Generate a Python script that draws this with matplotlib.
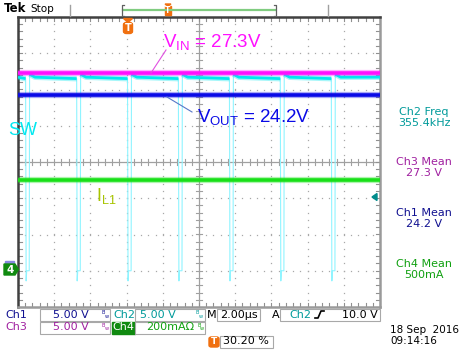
import numpy as np
import matplotlib
matplotlib.use('Agg')
import matplotlib.pyplot as plt
from matplotlib.patches import Rectangle, Polygon, FancyBboxPatch
from matplotlib.lines import Line2D

W, H = 468, 352

time_per_div_us = 2.0
volts_per_div = 5.0
amps_per_div = 0.2
ground_div = -3.0           # all channel grounds 3 div below centre
vin_mean_v = 27.3           # Ch3
vout_mean_v = 24.2          # Ch1
il_mean_a = 0.5             # Ch4
sw_pulse_times_us = [0.42, 3.24, 6.05, 8.86, 11.68, 14.49, 17.31]
sw_peak_v = 27.1            # just after each rising edge
sw_settle_v = 26.7          # ~0.3 us after rising edge
sw_before_v = 26.5          # just before the falling edge
sw_low_v = 0.0
sw_undershoot_v = -1.4
sw_off_us = 0.20
record_len_us = 20.0

meas_labels = ["Ch2 Freq", "Ch3 Mean", "Ch1 Mean", "Ch4 Mean"]
meas_values = ["355.4kHz", "27.3 V", "24.2 V", "500mA"]
meas_colors = ["#009A9A", "#A020A0", "#101090", "#10A010"]
meas_y = [112, 162, 213, 264]

C_MAG = "#FF10FF"
C_CYAN = "#00E8F0"
C_CYAN_L = "#90F4FF"
C_BLUE = "#0A0AE6"
C_GREEN = "#18E018"
C_ORANGE = "#F07010"

fig = plt.figure(figsize=(W / 100, H / 100), dpi=100)
fig.patch.set_facecolor("white")


def fx(x):
    return x / W


def fy(y):
    return 1 - y / H


def ftext(x, y, s, **kw):
    fig.text(fx(x), fy(y), s, **kw)


def frect(x0, y0, x1, y1, **kw):
    fig.patches.append(Rectangle((fx(x0), fy(y1)), (x1 - x0) / W, (y1 - y0) / H,
                                 transform=fig.transFigure, **kw))


def fline(xs, ys, **kw):
    fig.lines.append(Line2D([fx(x) for x in xs], [fy(y) for y in ys],
                            transform=fig.transFigure, **kw))


def fpoly(pts, **kw):
    fig.patches.append(Polygon([(fx(x), fy(y)) for x, y in pts], closed=True,
                               transform=fig.transFigure, **kw))


# ---------------- graticule ----------------
ax = fig.add_axes([fx(18), fy(307), 362 / W, 290 / H])
ax.set_xlim(0, record_len_us)
ax.set_ylim(-4, 4)
ax.set_xticks([])
ax.set_yticks([])
ax.set_facecolor("white")
for side in ["left", "top"]:
    ax.spines[side].set_color("#404040")
    ax.spines[side].set_linewidth(1.8)
for side in ["right", "bottom"]:
    ax.spines[side].set_color("#9a9a9a")
    ax.spines[side].set_linewidth(1.8)

gc = "#a8a8a8"
minor_x = np.arange(0, record_len_us + 0.01, time_per_div_us / 5)
minor_y = np.arange(-4, 4.01, 0.2)
for k in range(1, 10):
    if k == 5:
        continue
    xv = k * time_per_div_us
    ax.plot(np.full_like(minor_y, xv), minor_y, ls="none", marker="s", ms=0.9,
            mew=0, color=gc, zorder=1)
for k in range(-3, 4):
    if k == 0:
        continue
    ax.plot(minor_x, np.full_like(minor_x, k), ls="none", marker="s", ms=0.9,
            mew=0, color=gc, zorder=1)
ax.axvline(5 * time_per_div_us, color="#a0a0a0", lw=0.9, zorder=1)
ax.axhline(0, color="#a0a0a0", lw=0.9, zorder=1)
tx = 0.09 * time_per_div_us
for yv in minor_y:
    ax.plot([10 - tx, 10 + tx], [yv, yv], color="#a0a0a0", lw=0.8, zorder=1)
for xv in minor_x:
    ax.plot([xv, xv], [-0.09, 0.09], color="#a0a0a0", lw=0.8, zorder=1)
for xv in minor_x:
    ax.plot([xv, xv], [4, 3.9], color="#909090", lw=0.8, zorder=1)
    ax.plot([xv, xv], [-4, -3.9], color="#909090", lw=0.8, zorder=1)
for yv in minor_y:
    ax.plot([0, 0.2], [yv, yv], color="#909090", lw=0.8, zorder=1)
    ax.plot([record_len_us - 0.2, record_len_us], [yv, yv], color="#909090", lw=0.8, zorder=1)


def v2div(v):
    return ground_div + v / volts_per_div


# ---------------- SW (Ch2) ----------------
sw_t = [0.0]
sw_v = [sw_settle_v]
high_segs = []
seg_t = [0.0]
seg_v = [sw_settle_v]
for i, t0 in enumerate(sw_pulse_times_us):
    seg_t.append(t0)
    seg_v.append(sw_before_v)
    high_segs.append((seg_t, seg_v))
    t_up = t0 + sw_off_us + 0.02
    sw_t += [t0, t0 + 0.03, t0 + 0.06, t0 + sw_off_us, t_up, t_up + 0.3]
    sw_v += [sw_before_v, sw_undershoot_v, sw_low_v, sw_low_v, sw_peak_v, sw_settle_v]
    seg_t = [t_up, t_up + 0.3]
    seg_v = [sw_peak_v, sw_settle_v]
    if i + 1 < len(sw_pulse_times_us):
        sw_t.append(sw_pulse_times_us[i + 1])
        sw_v.append(sw_before_v)
sw_t.append(record_len_us)
sw_v.append(sw_settle_v)
seg_t.append(record_len_us)
seg_v.append(sw_settle_v)
high_segs.append((seg_t, seg_v))

ax.plot(sw_t, [v2div(v) for v in sw_v], color=C_CYAN_L, lw=0.8, zorder=3)
for st, sv in high_segs:
    ax.plot(st, [v2div(v) for v in sv], color=C_CYAN, lw=4.0, alpha=0.35, zorder=3,
            solid_capstyle="butt")
    ax.plot(st, [v2div(v) for v in sv], color=C_CYAN, lw=2.0, zorder=3,
            solid_capstyle="butt")

# ---------------- VIN, VOUT, IL ----------------
tt = [0, record_len_us]


def band(yv, col, z):
    ax.plot(tt, [yv, yv], color=col, lw=4.5, alpha=0.35, zorder=z, solid_capstyle="butt")
    ax.plot(tt, [yv, yv], color=col, lw=2.6, zorder=z, solid_capstyle="butt")


band(v2div(vin_mean_v), C_MAG, 4)
band(v2div(vout_mean_v), C_BLUE, 5)
band(ground_div + il_mean_a / amps_per_div, C_GREEN, 5)

# ---------------- annotations on screen ----------------
plt.rcParams["mathtext.fontset"] = "custom"
lab_font = "Liberation Sans"
ftext(163, 48, r"V$_\mathregular{IN}$ = 27.3V", color=C_MAG, fontsize=13.5,
      family=lab_font, va="baseline", ha="left")
ftext(197, 123, r"V$_\mathregular{OUT}$ = 24.2V", color=C_BLUE, fontsize=13.5,
      family=lab_font, va="baseline", ha="left")
ftext(8, 135, "SW", color=C_CYAN, fontsize=13, family=lab_font, va="baseline", ha="left")
ftext(96, 201, r"I$_\mathregular{L1}$", color="#A8C400", fontsize=13, family=lab_font,
      va="baseline", ha="left")
fline([151, 166], [73, 50], color="#E050E0", lw=0.8)
fline([167, 192], [97, 112], color="#5878C8", lw=0.8)

# ---------------- measurement panel ----------------
for lab, val, col, yy in zip(meas_labels, meas_values, meas_colors, meas_y):
    ftext(424, yy, lab, color=col, fontsize=8, ha="center", va="center")
    ftext(424, yy + 11, val, color=col, fontsize=8, ha="center", va="center")

fpoly([(372, 197), (377, 193.5), (377, 200.5)], color="#008B8B")
frect(5, 260.5, 14, 264, color="#8888E0")
fpoly([(4, 264), (15, 264), (18.5, 269.5), (15, 275), (4, 275)], color="#108A10")
ftext(10.5, 269.8, "4", color="white", fontsize=7.5, fontweight="bold", ha="center", va="center")

fpoly([(123.5, 18.5), (132.5, 18.5), (128, 22.5)], color=C_ORANGE)
fig.patches.append(FancyBboxPatch((fx(123.5), fy(33.5)), 9 / W, 11 / H,
                                  boxstyle="round,pad=0,rounding_size=0.006",
                                  transform=fig.transFigure, color=C_ORANGE))
ftext(128, 28, "T", color="white", fontsize=7, fontweight="bold", ha="center", va="center")

# ---------------- header ----------------
ftext(4, 9, "Tek", color="black", fontsize=8.5, fontweight="bold", ha="left", va="center")
ftext(30, 9, "Stop", color="black", fontsize=7.5, ha="left", va="center")
fline([70, 70], [4.5, 15.5], color="#a0a0a0", lw=1.0)
fline([328, 328], [4.5, 15.5], color="#a0a0a0", lw=1.0)
fline([123, 275], [10, 10], color="#80CC80", lw=1.6)
fline([124, 122, 122, 124], [4.5, 4.5, 15.5, 15.5], color="#606060", lw=0.9)
fline([274, 276, 276, 274], [4.5, 4.5, 15.5, 15.5], color="#606060", lw=0.9)
fpoly([(165, 4), (171, 4), (168, 6)], color=C_ORANGE)
frect(165, 6, 171, 15, color=C_ORANGE)
ftext(168, 10.5, "T", color="white", fontsize=5.5, fontweight="bold", ha="center", va="center")

# ---------------- status bar ----------------
box_ec = "#a8a8a8"


def sbox(x0, y0, x1, y1):
    frect(x0, y0, x1, y1, facecolor="white", edgecolor=box_ec, lw=0.8)


def bw(x, y, col):
    ftext(x, y - 2, "B", color=col, fontsize=3.6, ha="left", va="center")
    ftext(x + 2.5, y + 1.5, "w", color=col, fontsize=3.6, ha="left", va="center")


r1, r2, r3 = 314.5, 327.5, 341.5
ftext(5, r1, "Ch1", color="#101090", fontsize=8, ha="left", va="center")
sbox(40, 308.5, 110, 320.5)
ftext(53, r1, "5.00 V", color="#101090", fontsize=8, ha="left", va="center")
bw(102, r1, "#101090")
ftext(113, r1, "Ch2", color="#009A9A", fontsize=8, ha="left", va="center")
sbox(135, 308.5, 205, 320.5)
ftext(140, r1, "5.00 V", color="#009A9A", fontsize=8, ha="left", va="center")
bw(196, r1, "#009A9A")
ftext(207, r1, "M", color="black", fontsize=8, ha="left", va="center")
sbox(217, 308.5, 260, 320.5)
ftext(220, r1, "2.00\u00b5s", color="black", fontsize=8, ha="left", va="center")
ftext(272, r1, "A", color="black", fontsize=8, ha="left", va="center")
sbox(280, 308.5, 380, 320.5)
ftext(289, r1, "Ch2", color="#009A9A", fontsize=8, ha="left", va="center")
fline([315, 318, 321, 324], [318, 318, 311, 311], color="black", lw=1.2)
ftext(378, r1, "10.0 V", color="black", fontsize=8, ha="right", va="center")
ftext(5, r2, "Ch3", color="#A020A0", fontsize=8, ha="left", va="center")
sbox(40, 321.5, 110, 333.5)
ftext(53, r2, "5.00 V", color="#A020A0", fontsize=8, ha="left", va="center")
bw(102, r2, "#A020A0")
frect(112, 321.5, 135, 333.5, color="#108A10")
ftext(123.5, r2, "Ch4", color="white", fontsize=8, ha="center", va="center")
sbox(135, 321.5, 205, 333.5)
ftext(146, r2, "200mA\u03a9", color="#10A010", fontsize=8, ha="left", va="center")
bw(197, r2, "#10A010")
fig.patches.append(FancyBboxPatch((fx(209), fy(347)), 10 / W, 10 / H,
                                  boxstyle="round,pad=0,rounding_size=0.005",
                                  transform=fig.transFigure, color=C_ORANGE))
ftext(214, 342, "T", color="white", fontsize=6.5, fontweight="bold", ha="center", va="center")
sbox(220, 335.5, 273, 347.5)
ftext(223, r3, "30.20 %", color="black", fontsize=8, ha="left", va="center")
ftext(390, 330, "18 Sep  2016", color="black", fontsize=7.5, ha="left", va="center")
ftext(390, 341.5, "09:14:16", color="black", fontsize=7.5, ha="left", va="center")

fig.savefig("out.png", dpi=100, facecolor="white")
